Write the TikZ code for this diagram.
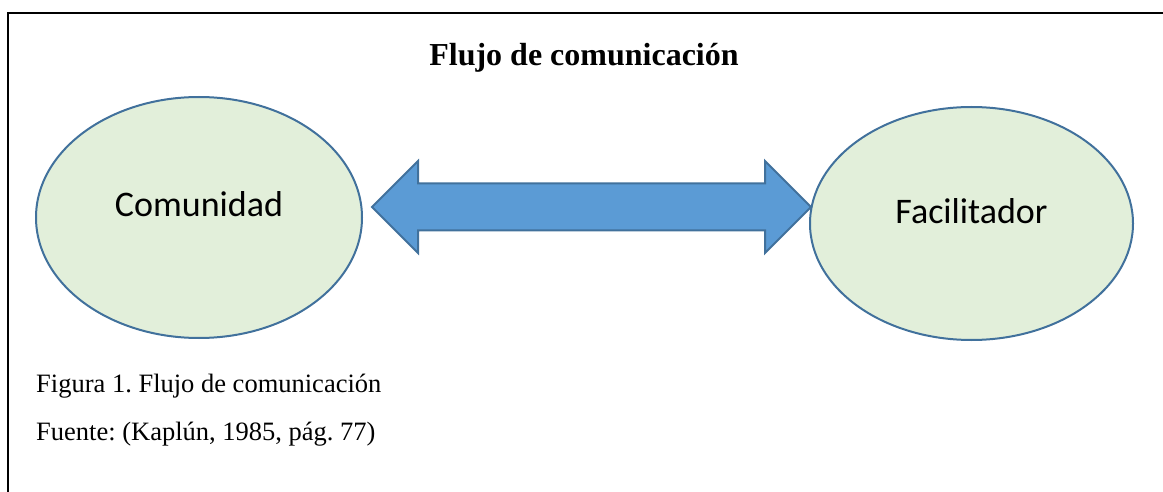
\documentclass[tikz,border=0pt]{standalone}
\usepackage{fontspec}
\setmainfont{Liberation Serif}
\newfontfamily\ovalfont{Carlito}
\usepackage{tikz}
\usetikzlibrary{positioning}
\usetikzlibrary{shapes.geometric}
\usetikzlibrary{shapes.arrows}

\definecolor{ovalfill}{HTML}{E2EFDA}
\definecolor{ovalline}{HTML}{41719C}
\definecolor{arrowfill}{HTML}{5B9BD5}

\frenchspacing

\begin{document}
\begin{tikzpicture}[
    x=1pt, y=1pt,
    oval/.style={
        ellipse,
        draw=ovalline,
        fill=ovalfill,
        line width=2pt,
        inner sep=0pt
    },
    ovaltext/.style={font=\ovalfont\fontsize{36}{43}\selectfont},
    caption/.style={font=\fontsize{26.5}{32}\selectfont, anchor=base west, inner sep=0pt}
]

    \useasboundingbox (0,0) rectangle (1163,-492);

    % Frame
    \draw[line width=2.5pt] (8,-492) -- (8,-13) -- (1163,-13);

    % Title
    \node[font=\bfseries\fontsize{32}{38}\selectfont, anchor=base, inner sep=0pt] (title) at (584,-66) {Flujo de comunicación};

    % Ellipses
    \node[
        oval,
        minimum width=326pt,
        minimum height=241pt,
        label={[ovaltext, yshift=13pt]center:Comunidad}
    ] (comunidad) at (199,-217.5) {};

    \node[
        oval,
        minimum width=323pt,
        minimum height=233pt,
        label={[ovaltext, yshift=12pt]center:Facilitador}
    ] (facilitador) at (971.5,-223.5) {};

    % Double arrow
    \node[
        double arrow,
        draw=ovalline,
        fill=arrowfill,
        line width=2pt,
        inner sep=22.5pt,
        minimum height=439pt,
        double arrow head extend=22.5pt,
        double arrow head indent=0pt
    ] (flujo) at (591.5,-207) {};

    % Caption
    \node[caption] (figura) at (36,-392) {Figura 1. Flujo de comunicación};
    \node[caption] (fuente) at (36,-440) {Fuente: (Kaplún, 1985, pág. 77)};

\end{tikzpicture}
\end{document}
